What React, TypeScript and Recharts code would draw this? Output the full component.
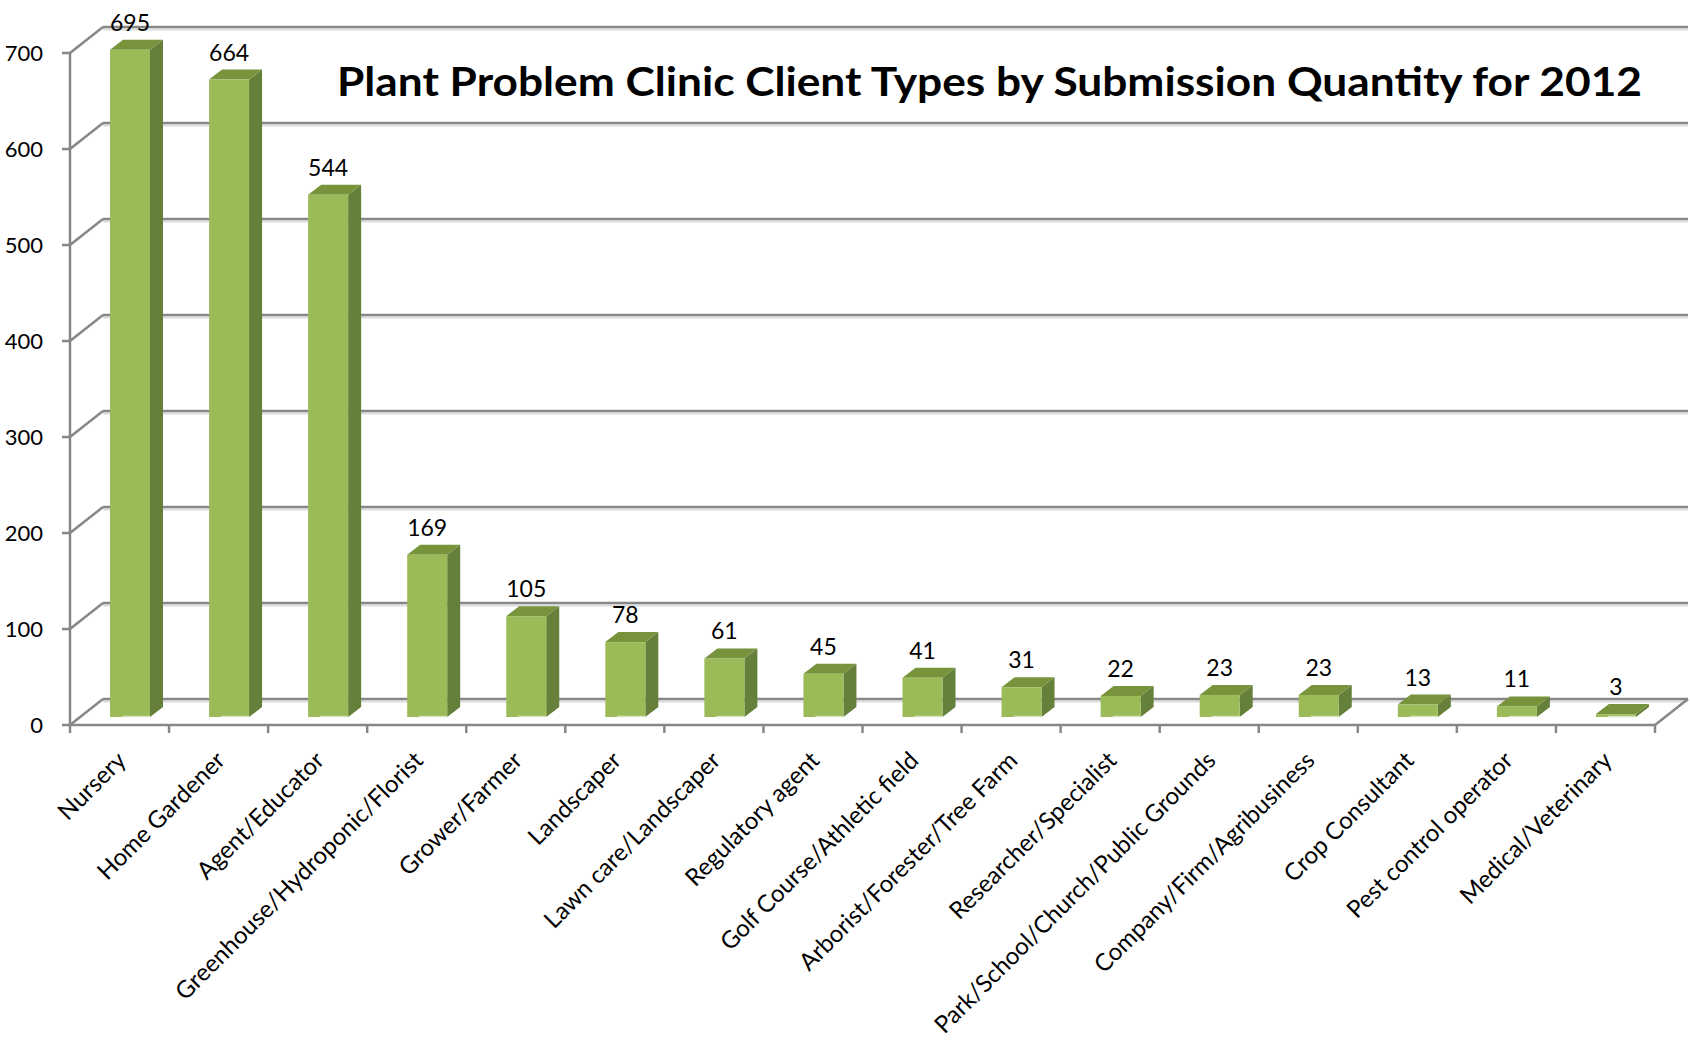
import React from 'react';
import { BarChart, Bar, XAxis, YAxis, CartesianGrid, LabelList } from 'recharts';

const categories = [
  'Nursery',
  'Home Gardener',
  'Agent/Educator',
  'Greenhouse/Hydroponic/Florist',
  'Grower/Farmer',
  'Landscaper',
  'Lawn care/Landscaper',
  'Regulatory agent',
  'Golf Course/Athletic field',
  'Arborist/Forester/Tree Farm',
  'Researcher/Specialist',
  'Park/School/Church/Public Grounds',
  'Company/Firm/Agribusiness',
  'Crop Consultant',
  'Pest control operator',
  'Medical/Veterinary',
];
const submissions = [695, 664, 544, 169, 105, 78, 61, 45, 41, 31, 22, 23, 23, 13, 11, 3];
const yTicks = [0, 100, 200, 300, 400, 500, 600, 700];

const data = categories.map((name, i) => ({ name, value: submissions[i] }));

// 3d look: wall depth and bar depth offsets
const WALL_DX = 33;
const WALL_DY = 26;
const BAR_OX = 10;
const BAR_OY = 8;
const BAR_DX = 13;
const BAR_DY = 10;

const GRID = '#878787';
const FONT = 'Lato, "Open Sans", sans-serif';

const wallLine = (props: any) => {
  const { x1, x2, y1, y, height, index } = props;
  const isFloor = Math.abs(y1 - (y + height)) < 0.5;
  const bx1 = x1 + WALL_DX;
  const bx2 = x2 + WALL_DX;
  const by = y1 - WALL_DY;
  return (
    <g key={`wall-${index}`}>
      <line x1={bx1} y1={by + 2.5} x2={bx2} y2={by + 2.5} stroke="#dcdcdc" strokeWidth={2} />
      <line x1={x1} y1={y1} x2={bx1} y2={by} stroke={GRID} strokeWidth={2.5} />
      <line x1={bx1} y1={by} x2={bx2} y2={by} stroke={GRID} strokeWidth={2.5} />
      {isFloor && <line x1={x2} y1={y1} x2={bx2} y2={by} stroke={GRID} strokeWidth={2.5} />}
    </g>
  );
};

const Box = (props: any) => {
  const { x, y, width, height } = props;
  const fx = x + BAR_OX;
  const fy = y - BAR_OY;
  const fb = fy + height;
  const rx = fx + width;
  const side = `${rx},${fy} ${rx + BAR_DX},${fy - BAR_DY} ${rx + BAR_DX},${fb - BAR_DY} ${rx},${fb}`;
  const top = `${fx},${fy} ${fx + BAR_DX},${fy - BAR_DY} ${rx + BAR_DX},${fy - BAR_DY} ${rx},${fy}`;
  return (
    <g>
      <polygon points={side} fill="#65803a" />
      <polygon points={top} fill="#77933c" />
      <rect x={fx} y={fy} width={width} height={height} fill="#9bbb59" />
      <line x1={fx + width * 0.3} y1={fb - 0.5} x2={rx} y2={fb - 0.5} stroke="#d8e4bc" strokeWidth={1.5} />
    </g>
  );
};

const ValueLabel = (props: any) => {
  const vb = props.viewBox && props.viewBox.width !== undefined ? props.viewBox : props;
  const { x, y, width } = vb;
  return (
    <text
      x={x + BAR_OX + width / 2}
      y={y - BAR_OY - BAR_DY - 9}
      textAnchor="middle"
      fontSize={23}
      fontFamily={FONT}
      fill="#000"
    >
      {props.value}
    </text>
  );
};

const CategoryTick = (props: any) => {
  const { x, y, payload, index } = props;
  const half = payload.offset || 0;
  const ax = x + 2;
  const ay = y + 31;
  return (
    <g>
      <line x1={x - half} y1={y} x2={x - half} y2={y + 8} stroke={GRID} strokeWidth={2.5} />
      {index === categories.length - 1 && (
        <line x1={x + half} y1={y} x2={x + half} y2={y + 8} stroke={GRID} strokeWidth={2.5} />
      )}
      <text
        x={ax}
        y={ay}
        dy="0.35em"
        textAnchor="end"
        transform={`rotate(-45 ${ax} ${ay})`}
        fontSize={24}
        fontFamily={FONT}
        fill="#000"
      >
        {payload.value}
      </text>
    </g>
  );
};

export default function App() {
  return (
    <div style={{ position: 'absolute', left: 0, top: 0, width: 1690, height: 1040, background: '#fff' }}>
      <BarChart
        width={1690}
        height={1040}
        data={data}
        margin={{ top: 53, right: 35, left: 0, bottom: 0 }}
      >
        <CartesianGrid vertical={false} horizontal={wallLine} />
        <XAxis
          dataKey="name"
          height={315}
          interval={0}
          tickLine={false}
          tickSize={0}
          tickMargin={0}
          axisLine={{ stroke: GRID, strokeWidth: 2.5 }}
          tick={CategoryTick}
        />
        <YAxis
          width={70}
          domain={[0, 700]}
          ticks={yTicks}
          interval={0}
          tickSize={8}
          tickMargin={19}
          axisLine={{ stroke: GRID, strokeWidth: 2.5 }}
          tickLine={{ stroke: GRID, strokeWidth: 2.5 }}
          tick={{ fill: '#000', fontSize: 22, fontFamily: FONT }}
        />
        <Bar dataKey="value" barSize={40} shape={Box} isAnimationActive={false}>
          <LabelList dataKey="value" content={ValueLabel} />
        </Bar>
      </BarChart>
      <svg
        width={1690}
        height={1040}
        style={{ position: 'absolute', left: 0, top: 0, pointerEvents: 'none' }}
      >
        <text
          x={337}
          y={96}
          textLength={1305}
          lengthAdjust="spacingAndGlyphs"
          fontSize={40}
          fontWeight="bold"
          fontFamily={FONT}
          fill="#000"
        >
          Plant Problem Clinic Client Types by Submission Quantity for 2012
        </text>
      </svg>
    </div>
  );
}
